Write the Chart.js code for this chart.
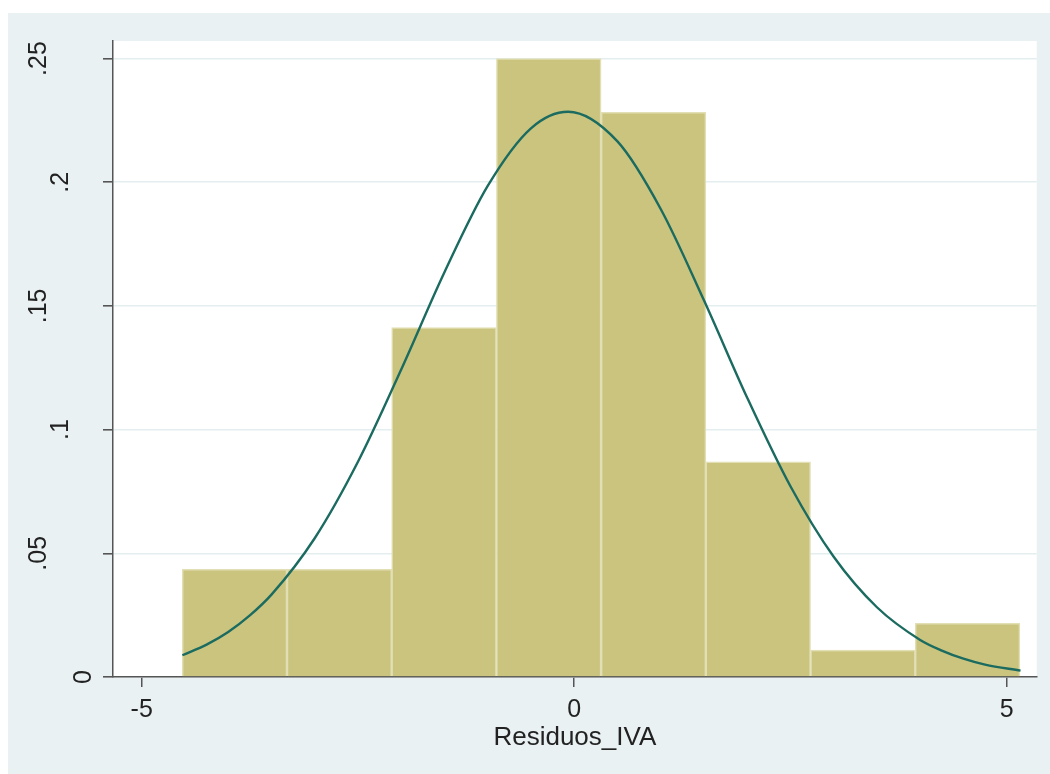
<!DOCTYPE html>
<html>
<head>
<meta charset="utf-8">
<script src="https://cdn.jsdelivr.net/npm/chart.js@4/dist/chart.umd.min.js"></script>
<style>
  html, body { margin: 0; padding: 0; background: #ffffff; overflow: hidden; }
  #frame {
    position: absolute; left: 8px; top: 13px;
    width: 1042px; height: 761px;
    background: #EAF1F3;
  }
  canvas { display: block; }
</style>
</head>
<body>
<div id="frame"><canvas id="hist" width="1042" height="761"></canvas></div>
<script>
// Histogram of residuals (density scale), 8 bins
const BIN_CENTERS = [-3.926, -2.715, -1.505, -0.294, 0.917, 2.127, 3.338, 4.548];
const BIN_DENSITY = [0.0435, 0.0435, 0.1413, 0.2500, 0.2283, 0.0870, 0.0109, 0.0217];

// Overlaid normal density curve
const CURVE_X = [-4.53, -4.25, -4.0, -3.75, -3.5, -3.0, -2.5, -2.0, -1.5, -1.0, -0.5, -0.07, 0.5, 1.0, 1.5, 2.0, 2.5, 3.0, 3.5, 4.0, 4.25, 4.5, 4.75, 5.16];
const CURVE_Y = [0.0088, 0.0131, 0.0182, 0.0249, 0.0333, 0.0561, 0.0870, 0.1243, 0.1636, 0.1985, 0.2218, 0.2285, 0.2165, 0.1892, 0.1523, 0.1129, 0.0771, 0.0486, 0.0282, 0.0150, 0.0107, 0.0074, 0.0050, 0.0026];

// Axis ticks
const X_TICKS = [-5, 0, 5];
const Y_TICKS = [0, 0.05, 0.1, 0.15, 0.2, 0.25];
const Y_TICK_LABELS = ['0', '.05', '.1', '.15', '.2', '.25'];
const X_TITLE = 'Residuos_IVA';

const FONT = 'Liberation Sans, Arial, Helvetica, sans-serif';
const TEXT = '#222222';
const AXIS = '#555555';

// Vertical y tick labels, read bottom to top
const yLabelPlugin = {
  id: 'yLabels',
  afterDraw(chart) {
    const y = chart.scales.y;
    const ctx = chart.ctx;
    ctx.save();
    ctx.font = '25px ' + FONT;
    ctx.fillStyle = TEXT;
    ctx.textAlign = 'center';
    ctx.textBaseline = 'middle';
    Y_TICKS.forEach((v, i) => {
      const label = Y_TICK_LABELS[i];
      const cx = 98.5 - 22.5 * label.length;
      ctx.save();
      ctx.translate(cx, y.getPixelForValue(v));
      ctx.rotate(-Math.PI / 2);
      ctx.fillText(label, 0, 0);
      ctx.restore();
    });
    ctx.restore();
  }
};

new Chart(document.getElementById('hist'), {
  type: 'bar',
  data: {
    datasets: [
      {
        type: 'line',
        data: CURVE_X.map((x, i) => ({ x: x, y: CURVE_Y[i] })),
        borderColor: '#1B6B60',
        borderWidth: 2.4,
        pointRadius: 0,
        fill: false,
        cubicInterpolationMode: 'monotone',
        order: 0
      },
      {
        type: 'bar',
        data: BIN_CENTERS.map((x, i) => ({ x: x, y: BIN_DENSITY[i] })),
        backgroundColor: '#CAC47E',
        borderColor: '#E2DFB4',
        borderWidth: 1.5,
        barPercentage: 1,
        categoryPercentage: 1,
        order: 1
      }
    ]
  },
  options: {
    responsive: false,
    animation: false,
    events: [],
    layout: { padding: { top: 28, right: 13.3, left: 0, bottom: 0 } },
    plugins: { legend: { display: false }, tooltip: { enabled: false } },
    scales: {
      x: {
        type: 'linear',
        min: -5.332,
        max: 5.347,
        offset: false,
        afterBuildTicks: (s) => { s.ticks = X_TICKS.map(v => ({ value: v })); },
        afterFit: (s) => { s.height = 97; },
        grid: {
          offset: false,
          drawOnChartArea: false,
          drawTicks: true,
          tickLength: 10,
          color: AXIS,
          tickColor: AXIS,
          lineWidth: 1.5
        },
        border: { display: true, color: AXIS, width: 1.5 },
        ticks: {
          color: TEXT,
          font: { family: FONT, size: 25 },
          padding: 8,
          maxRotation: 0,
          callback: (v) => String(v)
        },
        title: {
          display: true,
          text: X_TITLE,
          color: TEXT,
          font: { family: FONT, size: 26 },
          padding: { top: 0, bottom: 21 }
        }
      },
      y: {
        type: 'linear',
        min: 0,
        max: 0.2571,
        afterBuildTicks: (s) => { s.ticks = Y_TICKS.map(v => ({ value: v })); },
        afterFit: (s) => { s.width = 105; },
        grid: {
          drawOnChartArea: true,
          drawTicks: true,
          tickLength: 10,
          color: '#E4EEF0',
          tickColor: AXIS,
          lineWidth: 1.6
        },
        border: { display: true, color: AXIS, width: 1.5 },
        ticks: { display: false }
      }
    }
  },
  plugins: [yLabelPlugin, {
    id: 'plotBg',
    beforeDraw(chart) {
      const a = chart.chartArea;
      const ctx = chart.ctx;
      ctx.save();
      ctx.fillStyle = '#ffffff';
      ctx.fillRect(a.left, a.top, a.right - a.left, a.bottom - a.top);
      ctx.restore();
    }
  }]
});
</script>
</body>
</html>
